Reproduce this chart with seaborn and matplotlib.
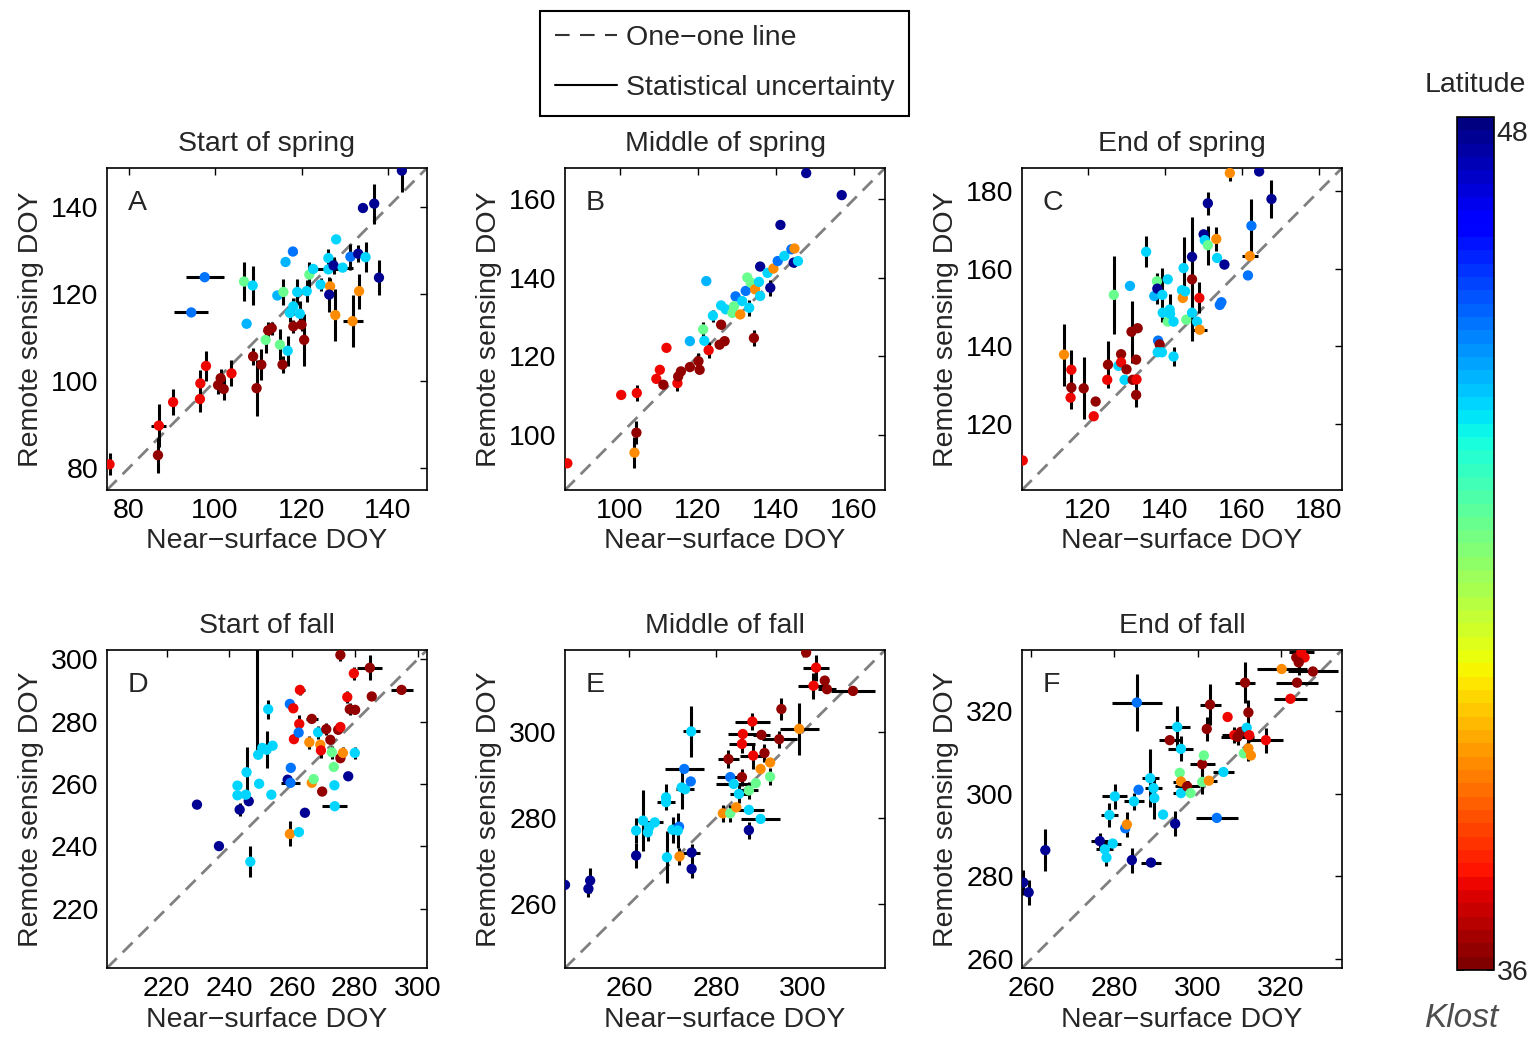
import numpy as np
import pandas as pd
import matplotlib
matplotlib.use("Agg")
import matplotlib.pyplot as plt
import seaborn as sns
from matplotlib.lines import Line2D
from matplotlib.colors import Normalize
from matplotlib.cm import ScalarMappable

# each row: near-surface DOY, remote sensing DOY, x error, y error, latitude
start_spring = [
    (75.6, 80.9, 0, 2.5, 37.2), (86.8, 83.0, 0, 4, 36.3), (87.0, 89.8, 1.7, 5, 37.2),
    (90.3, 95.2, 0, 3, 37.2), (96.5, 95.9, 0, 3, 37.2), (96.6, 99.5, 0, 3, 37.2),
    (97.9, 103.5, 0, 3.5, 37.2), (100.7, 99.1, 0, 2, 36.3), (101.3, 100.7, 0, 2, 36.3),
    (102.0, 98.2, 0, 2.5, 36.3), (103.8, 101.8, 0, 3, 37.2), (109.6, 98.4, 0, 6.5, 36.3),
    (108.8, 105.7, 0, 2, 36.3), (110.7, 103.8, 0, 3.5, 36.3), (111.7, 109.5, 0, 3, 42.2),
    (112.3, 111.7, 0, 2, 36.3), (113.1, 112.2, 0, 1.5, 36.3), (115.0, 108.4, 0, 3.5, 42.2),
    (115.6, 103.8, 0, 2, 36.3), (116.8, 107.0, 0, 3.5, 44.0), (118.1, 112.6, 0, 1.5, 36.3),
    (120.0, 113.0, 0, 1.5, 36.3), (120.6, 109.5, 0, 6, 36.3), (117.3, 115.7, 0, 2, 44.0),
    (119.6, 115.5, 0, 3, 44.0), (118.1, 117.2, 0, 2, 44.0), (107.3, 113.2, 0, 0, 44.3),
    (106.7, 122.9, 0, 4.5, 42.2), (108.7, 122.0, 0, 4.5, 44.0), (97.6, 123.9, 4.4, 0, 45.0),
    (94.5, 115.8, 3.9, 0, 45.0), (118.0, 129.8, 1.0, 0, 45.0), (116.3, 127.4, 0, 0, 44.3),
    (114.4, 119.7, 0, 0, 44.3), (115.8, 120.5, 0, 3, 42.2), (119.0, 120.5, 0, 3, 44.0),
    (121.2, 120.7, 0, 2.5, 44.0), (121.8, 124.5, 0, 3, 42.2), (122.7, 125.8, 1.0, 0, 44.0),
    (126.2, 128.3, 0, 2, 44.0), (128.0, 132.6, 0, 0, 44.0), (126.2, 125.7, 3.0, 0, 44.0),
    (127.4, 126.6, 0, 2, 47.7), (124.4, 122.2, 0, 1.5, 44.0), (126.6, 121.8, 0, 2, 38.9),
    (126.4, 119.9, 0, 4, 47.7), (127.8, 115.2, 0, 6, 38.9), (131.8, 113.8, 2.3, 6, 38.9),
    (129.5, 126.1, 2.5, 0, 44.0), (131.3, 128.6, 0, 3, 45.0), (133.1, 129.3, 0, 2, 47.7),
    (134.8, 128.5, 0, 3.5, 44.0), (133.3, 120.7, 0, 4, 38.9), (137.9, 123.8, 0, 4, 47.7),
    (134.2, 139.8, 0, 0, 47.7), (136.8, 140.8, 0, 4.6, 47.7), (143.2, 148.4, 0, 5, 47.7),
]

middle_spring = [
    (86.6, 92.8, 0, 0, 37.2), (103.8, 95.5, 0, 4, 38.9), (104.3, 100.6, 0, 3, 36.3),
    (100.4, 110.2, 0, 0, 37.2), (104.4, 110.7, 0, 2, 37.2), (109.4, 114.3, 0, 0, 37.2),
    (110.3, 116.6, 0, 0, 37.2), (111.2, 112.8, 0, 0, 36.3), (112.0, 122.2, 0, 0, 37.2),
    (114.8, 113.2, 0, 2, 37.2), (115.0, 114.9, 0, 0, 36.3), (115.7, 116.2, 0, 1, 36.3),
    (118.0, 117.3, 0, 0, 36.3), (120.2, 118.8, 0, 2, 36.3), (120.5, 116.6, 0, 0, 36.3),
    (122.8, 121.6, 0, 2, 37.2), (118.0, 123.9, 0, 0, 44.3), (121.7, 124.0, 0, 0, 44.0),
    (121.4, 126.9, 0, 2, 42.2), (123.9, 130.4, 0, 1.5, 44.0), (122.2, 139.2, 0, 0, 44.3),
    (126.0, 128.1, 0, 1, 36.3), (125.6, 123.0, 0, 0, 36.3), (126.9, 123.9, 0, 1, 36.3),
    (134.4, 124.7, 0, 2, 36.3), (126.0, 133.0, 0, 0, 44.0), (127.2, 132.0, 0, 0, 44.0),
    (128.9, 131.1, 0, 0, 42.2), (130.9, 130.7, 0, 0, 38.9), (129.7, 135.3, 0, 1, 45.0),
    (129.3, 132.8, 0, 0, 42.2), (131.4, 134.1, 0, 0, 44.0), (133.2, 132.4, 0, 2, 44.0),
    (132.3, 136.7, 0, 0, 45.0), (132.7, 140.1, 0, 0, 42.2), (133.6, 138.8, 0, 0, 42.2),
    (134.7, 137.1, 0, 0, 38.9), (135.7, 139.0, 0, 1, 44.0), (136.0, 135.4, 0, 0, 44.0),
    (136.0, 142.9, 0, 0, 47.7), (137.9, 141.3, 0, 0, 44.0), (138.6, 137.5, 0, 2, 47.7),
    (139.4, 142.4, 0, 0, 38.9), (140.5, 144.3, 0, 0, 45.0), (141.2, 153.5, 0, 0, 47.7),
    (142.2, 145.6, 0, 0, 44.0), (144.0, 147.3, 0, 0, 45.0), (144.8, 147.5, 0, 1, 38.9),
    (144.6, 143.9, 0, 1, 47.7), (145.7, 144.3, 0, 0, 44.0), (147.8, 166.7, 0, 1, 47.7),
    (156.9, 161.1, 0, 1, 47.7),
]

end_spring = [
    (103.2, 110.6, 0, 0, 37.2), (113.9, 137.9, 0, 8, 38.9), (115.8, 134.0, 0, 5, 37.2),
    (115.6, 126.8, 0, 3, 37.2), (115.8, 129.4, 0, 2, 36.3), (119.0, 129.2, 0, 8, 36.3),
    (121.6, 122.0, 0, 0, 37.2), (122.1, 125.8, 0, 0, 36.3), (125.1, 131.4, 0, 0, 37.2),
    (125.3, 135.3, 0, 6, 36.3), (126.8, 153.3, 0, 10, 42.2), (128.0, 135.0, 0, 0, 44.0),
    (128.7, 138.0, 0, 0, 36.3), (128.7, 135.9, 0, 0, 37.2), (130.1, 134.1, 0, 0, 36.3),
    (129.6, 131.4, 0, 0, 44.0), (131.0, 155.6, 0, 0, 44.3), (131.4, 143.8, 0, 8, 36.3),
    (131.7, 131.4, 0, 0, 36.3), (132.6, 136.6, 0, 0, 36.3), (132.7, 131.5, 0, 0, 37.2),
    (132.6, 127.5, 0, 3, 36.3), (133.0, 144.7, 0, 0, 36.3), (135.2, 164.4, 0, 4, 44.0),
    (137.3, 153.0, 0, 0, 44.3), (138.0, 156.8, 0, 0, 42.2), (138.1, 154.9, 0, 4, 47.7),
    (138.3, 141.5, 0, 0, 45.0), (138.7, 140.5, 0, 0, 36.3), (138.2, 138.5, 0, 0, 44.0),
    (139.3, 138.5, 0, 0, 44.0), (139.4, 153.3, 0, 7, 44.0), (139.5, 148.7, 0, 0, 44.0),
    (140.8, 157.3, 0, 0, 44.0), (141.3, 149.5, 0, 4, 44.0), (140.8, 146.4, 0, 0, 42.2),
    (141.4, 148.4, 0, 0, 44.0), (142.3, 146.4, 0, 0, 44.0), (142.3, 137.4, 0, 2.5, 44.0),
    (144.5, 154.5, 0, 0, 44.0), (144.7, 152.5, 0, 0, 38.9), (144.9, 160.2, 0, 8, 44.0),
    (145.3, 154.2, 0, 0, 44.0), (145.6, 146.9, 0, 0, 42.2), (147.1, 157.3, 0, 16, 36.3),
    (147.1, 148.7, 0, 0, 44.0), (147.1, 163.1, 0, 0, 47.7), (148.4, 146.4, 0, 0, 44.0),
    (149.0, 152.5, 0, 4, 37.2), (149.1, 144.3, 2.0, 0, 38.9), (150.1, 168.9, 0, 0, 47.7),
    (150.4, 167.4, 0, 0, 44.0), (151.2, 166.1, 0, 5, 42.2), (151.2, 176.9, 0, 3, 47.7),
    (153.4, 167.7, 0, 3, 38.9), (153.6, 162.8, 0, 0, 44.0), (154.3, 150.7, 0, 0, 45.0),
    (154.7, 151.4, 0, 0, 45.0), (155.5, 161.1, 0, 0, 47.7), (156.9, 184.7, 0, 2, 38.9),
    (161.6, 158.3, 0, 0, 45.0), (162.1, 163.3, 2.0, 0, 38.9), (162.5, 171.1, 0, 7, 45.0),
    (164.5, 185.1, 0, 0, 47.7), (167.7, 178.0, 0, 5, 47.7),
]

start_fall = [
    (229.7, 253.4, 0, 1, 47.7), (236.7, 240.1, 0, 0, 47.7), (243.3, 251.8, 0, 2, 47.7),
    (246.2, 254.5, 0, 0, 47.7), (242.6, 259.5, 0, 0, 44.0), (242.6, 256.4, 0, 0, 44.0),
    (245.3, 256.6, 0, 0, 44.0), (245.5, 263.8, 0, 8, 44.0), (246.7, 235.1, 0, 5, 44.0),
    (248.7, 310.0, 0, 40, 44.0), (249.5, 260.1, 0, 0, 44.0), (249.2, 269.4, 0, 0, 44.0),
    (250.5, 271.6, 0, 0, 44.0), (251.9, 271.0, 0, 6, 44.0), (252.4, 284.0, 0, 3, 44.0),
    (253.8, 272.3, 0, 0, 44.0), (253.4, 256.6, 0, 0, 44.0), (258.6, 261.4, 0, 0, 47.7),
    (259.5, 260.4, 3.0, 0, 45.0), (259.3, 244.0, 0, 4, 38.9), (259.3, 285.7, 0, 0, 45.0),
    (260.4, 284.3, 0, 0, 37.2), (260.6, 274.4, 0, 0, 37.2), (259.6, 265.2, 0, 0, 45.0),
    (262.2, 244.6, 0, 0, 44.0), (262.3, 279.3, 0, 3, 37.2), (262.1, 276.5, 0, 0, 45.0),
    (262.5, 290.2, 1.5, 1.5, 37.2), (264.1, 250.8, 0, 0, 47.7), (265.5, 273.4, 0, 2, 38.9),
    (266.3, 280.9, 2.0, 0, 36.3), (266.3, 260.4, 0, 0, 38.9), (266.9, 261.6, 0, 0, 42.2),
    (269.0, 272.6, 0, 0, 38.9), (269.2, 270.8, 0, 2.5, 37.2), (269.6, 257.6, 0, 0, 36.3),
    (268.3, 276.6, 0, 2, 44.0), (270.9, 277.6, 0, 2, 36.3), (272.2, 274.2, 0, 0, 36.3),
    (272.7, 270.2, 0, 2, 42.2), (273.3, 265.5, 0, 0, 42.2), (273.5, 259.6, 0, 0, 44.0),
    (273.6, 252.9, 4.0, 0, 44.0), (274.7, 277.4, 0, 0, 36.3), (275.4, 278.3, 0, 0, 37.2),
    (275.4, 268.3, 0, 0, 36.3), (276.2, 270.0, 0, 2, 38.9), (277.9, 262.5, 0, 0, 47.7),
    (280.0, 270.0, 0, 2, 44.0), (277.6, 287.9, 0, 2, 37.2), (278.4, 284.0, 0, 2, 36.3),
    (280.1, 283.8, 0, 0, 36.3), (279.7, 295.5, 0, 2, 37.2), (275.4, 301.4, 0, 2, 36.3),
    (284.8, 297.3, 4.0, 4, 36.3), (285.4, 288.1, 0, 0, 36.3), (294.9, 290.2, 3.5, 0, 36.3),
]

middle_fall = [
    (245.2, 264.5, 0, 0, 47.7), (250.6, 263.6, 0, 2, 47.7), (251.0, 265.5, 0, 3, 47.7),
    (261.6, 271.3, 0, 3, 47.7), (261.6, 277.1, 0, 3, 44.0), (263.2, 279.4, 0, 7, 44.0),
    (264.3, 276.7, 0, 2, 44.0), (265.9, 279.0, 2.0, 0, 44.0), (264.6, 277.9, 0, 0, 44.0),
    (268.5, 283.7, 2.0, 0, 44.0), (268.5, 284.8, 0, 3, 44.0), (268.7, 270.9, 0, 6, 44.0),
    (270.0, 277.3, 0, 3, 44.0), (271.5, 278.0, 0, 0, 45.0), (271.6, 271.1, 0, 2, 38.9),
    (271.2, 277.1, 0, 4, 44.0), (274.4, 272.0, 2.0, 2, 47.7), (274.4, 268.2, 0, 2, 47.7),
    (272.1, 287.1, 0, 5, 44.0), (272.9, 286.7, 2.0, 0, 44.0), (272.7, 291.4, 4.5, 0, 45.0),
    (274.2, 288.5, 0, 0, 45.0), (274.3, 300.1, 2.0, 6, 44.0), (281.6, 281.1, 0, 2, 38.9),
    (283.3, 281.1, 0, 2, 42.2), (284.7, 282.5, 0, 0, 38.9), (287.6, 281.9, 3.5, 0, 44.0),
    (290.3, 279.8, 4.5, 0, 44.0), (287.6, 277.2, 0, 2, 47.7), (283.3, 289.5, 3.0, 0, 45.0),
    (284.1, 287.9, 4.0, 0, 44.0), (285.3, 285.6, 2.0, 2, 44.0), (286.0, 289.5, 0, 2, 36.3),
    (287.6, 286.4, 2.0, 2, 42.2), (289.2, 288.1, 0, 0, 42.2), (292.5, 289.6, 0, 2, 42.2),
    (290.3, 291.4, 0, 0, 38.9), (288.6, 294.5, 3.0, 3, 37.2), (291.2, 295.1, 0, 2, 36.3),
    (292.5, 292.9, 0, 0, 38.9), (282.9, 293.7, 2.5, 2, 36.3), (286.0, 297.2, 3.0, 2, 37.2),
    (286.2, 299.5, 3.5, 0, 37.2), (288.4, 302.4, 4.0, 2, 37.2), (290.5, 299.3, 2.0, 0, 36.3),
    (294.6, 298.3, 4.0, 2, 36.3), (295.1, 305.3, 0, 2.5, 36.3), (299.2, 300.7, 4.5, 6, 38.9),
    (300.8, 318.4, 0, 0, 36.3), (303.1, 314.9, 3.0, 3, 37.2), (302.5, 310.7, 3.5, 3, 37.2),
    (305.1, 311.9, 0, 0, 36.3), (305.6, 309.9, 2.0, 0, 36.3), (311.6, 309.5, 5.0, 1, 36.3),
]

end_fall = [
    (258.1, 278.5, 0, 3, 47.7), (259.4, 276.1, 0, 3, 47.7), (263.4, 286.3, 0, 5, 47.7),
    (276.5, 288.5, 2.0, 2, 47.7), (277.7, 286.5, 2.0, 2, 44.0), (278.1, 284.5, 0, 2, 44.0),
    (279.6, 287.9, 2.0, 0, 44.0), (278.8, 294.8, 2.0, 3, 44.0), (280.1, 299.3, 3.0, 3, 44.0),
    (282.6, 291.6, 0, 0, 45.0), (283.0, 292.5, 0, 3, 38.9), (284.2, 283.9, 0, 3, 47.7),
    (284.7, 298.1, 2.5, 2, 44.0), (285.4, 322.0, 6.0, 7, 45.0), (285.8, 300.9, 0, 0, 45.0),
    (288.8, 283.3, 2.5, 0, 47.7), (288.6, 303.7, 2.0, 7, 44.0), (289.4, 301.3, 2.0, 0, 44.0),
    (289.6, 298.9, 0, 5, 44.0), (291.7, 294.9, 0, 0, 44.0), (294.6, 292.7, 0, 3, 47.7),
    (293.3, 312.9, 2.5, 0, 36.3), (295.1, 316.1, 3.0, 5, 44.0), (296.0, 310.8, 3.0, 3, 44.0),
    (295.7, 305.0, 0, 0, 42.2), (296.0, 302.9, 2.0, 0, 38.9), (296.0, 300.1, 2.0, 0, 44.0),
    (297.5, 301.7, 3.0, 0, 36.3), (298.3, 300.1, 0, 0, 42.2), (301.1, 302.8, 0, 3, 42.2),
    (301.1, 307.1, 3.0, 3, 36.3), (301.5, 309.2, 0, 0, 42.2), (302.7, 303.1, 2.0, 0, 38.9),
    (302.2, 315.6, 0, 3, 36.3), (303.0, 321.5, 2.5, 5, 36.3), (304.6, 294.1, 5.0, 0, 45.0),
    (306.2, 305.2, 2.5, 0, 44.0), (307.2, 318.5, 0, 0, 37.2), (308.8, 314.1, 3.0, 2, 37.2),
    (309.6, 313.7, 4.0, 2, 36.3), (310.4, 314.9, 0, 0, 36.3), (311.4, 326.8, 2.5, 5, 36.3),
    (311.1, 309.7, 0, 0, 42.2), (312.2, 319.6, 0, 3, 36.3), (311.8, 315.9, 0, 0, 44.0),
    (312.4, 314.1, 0, 0, 37.2), (312.2, 310.9, 0, 3, 38.9), (312.8, 309.2, 0, 0, 38.9),
    (316.4, 312.9, 4.0, 3, 37.2), (320.2, 330.1, 6.0, 0, 38.9), (322.3, 322.9, 4.0, 0, 37.2),
    (323.9, 326.8, 5.0, 0, 36.3), (323.7, 332.9, 0, 0, 36.3), (324.9, 334.1, 3.0, 0, 37.2),
    (325.7, 332.9, 0, 0, 37.2), (327.7, 329.5, 6.0, 0, 36.3), (324.3, 331.7, 0, 3, 36.3),
]

panel_rows = [start_spring, middle_spring, end_spring, start_fall, middle_fall, end_fall]
titles = ["Start of spring", "Middle of spring", "End of spring",
          "Start of fall", "Middle of fall", "End of fall"]
letters = ["A", "B", "C", "D", "E", "F"]
limits = [(75, 149), (86, 168), (103, 186), (201, 303), (245.2, 319), (257.8, 334.7)]
ticks = [[80, 100, 120, 140], [100, 120, 140, 160], [120, 140, 160, 180],
         [220, 240, 260, 280, 300], [260, 280, 300], [260, 280, 300, 320]]
lat_min, lat_max = 36, 48

# axes rectangles in figure fraction
lefts = [0.0698, 0.3688, 0.6671]
bottoms = [0.5275, 0.0665]
width, heights = 0.2089, [0.3105, 0.3067]

sns.set_theme(style="white")
plt.rcParams["font.family"] = ["Liberation Sans", "DejaVu Sans"]
plt.rcParams["font.size"] = 20.5
plt.rcParams["axes.linewidth"] = 1.2

FS = 20.5
cmap = plt.get_cmap("jet_r", 64)
norm = Normalize(lat_min, lat_max)


def draw_panel(ax, rows, lims, tick_vals, title, letter):
    df = pd.DataFrame(rows, columns=["near", "remote", "xerr", "yerr", "lat"])
    ax.plot(lims, lims, ls=(0, (5, 3)), color="0.5", lw=2, zorder=1)
    ax.errorbar(df["near"], df["remote"], xerr=df["xerr"], yerr=df["yerr"],
                fmt="none", ecolor="black", elinewidth=2.2, capsize=0, zorder=2)
    sns.scatterplot(data=df, x="near", y="remote", hue="lat", palette=cmap,
                    hue_norm=norm, s=55, linewidth=0, legend=False, ax=ax, zorder=3)
    ax.set_xlim(lims)
    ax.set_ylim(lims)
    ax.set_xticks(tick_vals)
    ax.set_yticks(tick_vals)
    ax.tick_params(direction="in", top=True, right=True, length=5, width=1,
                   labelsize=FS, pad=6, colors="black")
    for sp in ax.spines.values():
        sp.set_edgecolor("black")
    ax.set_xlabel("Near\u2212surface DOY", fontsize=FS, labelpad=3)
    ax.set_ylabel("Remote sensing DOY", fontsize=FS, labelpad=5)
    ax.set_title(title, fontsize=FS, pad=12)
    ax.text(0.065, 0.89, letter, transform=ax.transAxes, fontsize=FS,
            ha="left", va="center")


fig = plt.figure(figsize=(15.32, 10.37), dpi=100)
for i, rows in enumerate(panel_rows):
    r, c = divmod(i, 3)
    ax = fig.add_axes([lefts[c], bottoms[r], width, heights[r]])
    draw_panel(ax, rows, limits[i], ticks[i], titles[i], letters[i])

# legend at the top
handles = [Line2D([], [], color="0.2", ls=(0, (7, 5)), lw=1.5),
           Line2D([], [], color="black", lw=1.5)]
leg = fig.legend(handles, ["One\u2212one line", "Statistical uncertainty"],
                 loc="upper center", bbox_to_anchor=(0.473, 0.9894),
                 borderaxespad=0, fontsize=FS, handlelength=2.2,
                 handletextpad=0.3, labelspacing=0.85, borderpad=0.5,
                 fancybox=False, framealpha=1, edgecolor="black")
leg.get_frame().set_linewidth(1.5)

# colorbar
cax = fig.add_axes([0.951, 0.0646, 0.0242, 0.8226])
cb = fig.colorbar(ScalarMappable(norm=Normalize(lat_min, 48.2), cmap=cmap),
                  cax=cax, ticks=[lat_min, lat_max])
cb.outline.set_edgecolor("black")
cb.ax.tick_params(direction="in", left=True, right=True, length=5,
                  labelsize=FS, pad=2)
cax.set_title("Latitude", fontsize=FS, pad=18)

fig.text(0.93, 0.003, "Klost", fontsize=24, style="italic", color="0.3",
         ha="left", va="bottom")

fig.savefig("out.png", dpi=100)
